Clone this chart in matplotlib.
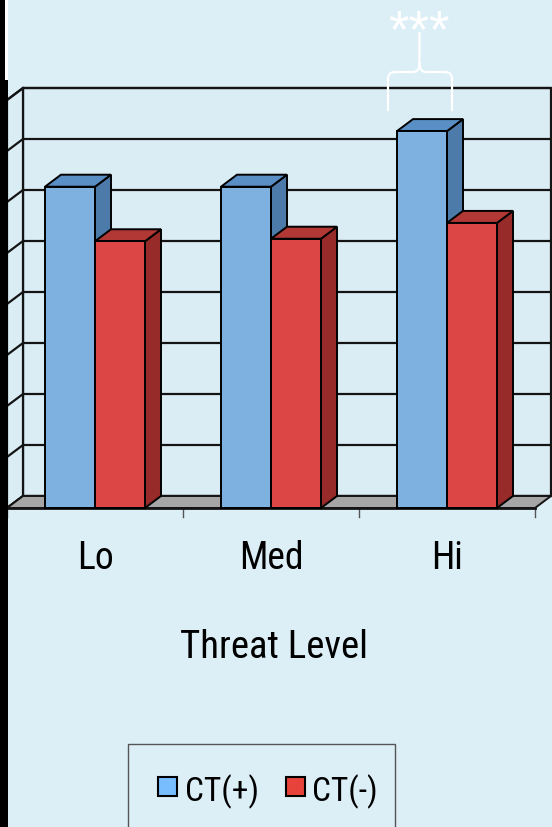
import matplotlib
matplotlib.use("Agg")
import matplotlib.pyplot as plt
from matplotlib.patches import Polygon, Rectangle, PathPatch
from matplotlib.path import Path
from matplotlib.transforms import Affine2D

# ---- data -------------------------------------------------------------
categories = ["Lo", "Med", "Hi"]
series_names = ["CT(+)", "CT(-)"]
ct_pos = [6.30, 6.30, 7.39]
ct_neg = [5.23, 5.28, 5.59]
y_levels = [0, 1, 2, 3, 4, 5, 6, 7, 8]
x_title = "Threat Level"
sig_mark = "***"

# ---- style ------------------------------------------------------------
BG = "#DCEEF6"
WALL = "#DAEDF4"
FLOOR = "#A6A6A6"
LINE = "#141414"
FRONT = ["#7EB1E0", "#DC4644"]
TOP = ["#5A8FC6", "#B13835"]
SIDE = ["#4C7BAA", "#962B2A"]
LEG = ["#78BEFF", "#E8433A"]
NARROW = ["Roboto Condensed", "Archivo Narrow", "DejaVu Sans"]

W, H = 552, 827
fig = plt.figure(figsize=(W / 100, H / 100), dpi=100)
fig.patch.set_facecolor(BG)

# pixel coordinates with the origin at the top-left corner
px = Affine2D().scale(1 / W, -1 / H).translate(0, 1) + fig.transFigure

ax = fig.add_axes([0, 0, 1, 1])
ax.set_axis_off()
ax.patch.set_alpha(0)

# category unit -> 176 px, value unit -> 51 px, front floor edge at (7, 508)
X0, XU, Y0, YU = 7, 176, 508, 51
ax.set_xlim(-X0 / XU, (W - X0) / XU)
ax.set_ylim((Y0 - H) / YU, Y0 / YU)

n = len(categories)
vmax = y_levels[-1]
DX, DY = 16 / XU, 12 / YU       # depth offset of the 3-D box
bw = 50 / XU                    # bar width in category units

# back wall, left wall and floor
ax.add_patch(Rectangle((DX, DY), n, vmax, facecolor=WALL, edgecolor=LINE,
                       lw=1.6, zorder=1))
ax.add_patch(Polygon([(0, 0), (DX, DY), (DX, vmax + DY), (0, vmax)],
                     closed=True, facecolor=WALL, edgecolor=LINE, lw=1.6, zorder=1))
for v in y_levels:
    ax.plot([DX, n + DX], [v + DY, v + DY], color=LINE, lw=1.6, zorder=2,
            solid_capstyle="butt")
    ax.plot([0, DX], [v, v + DY], color=LINE, lw=1.6, zorder=2)
ax.add_patch(Polygon([(0, 0), (n, 0), (n + DX, DY), (DX, DY)], closed=True,
                     facecolor=FLOOR, edgecolor=LINE, lw=1.4, zorder=3))
ax.plot([0, n], [0, 0], color=LINE, lw=2.0, zorder=3.5)
for i in range(n + 1):
    ax.plot([i, i], [0, -9 / YU], color="#555555", lw=1.0, zorder=3)

# 3-D bars: side, top, then front face
for j, vals in enumerate([ct_pos, ct_neg]):
    z = 5 + j
    lefts = [i + 0.5 - bw + j * bw for i in range(n)]
    for xl, v in zip(lefts, vals):
        ax.add_patch(Polygon([(xl + bw, 0), (xl + bw + DX, DY),
                              (xl + bw + DX, v + DY), (xl + bw, v)], closed=True,
                             facecolor=SIDE[j], edgecolor="black", lw=1.4, zorder=z))
        ax.add_patch(Polygon([(xl, v), (xl + bw, v), (xl + bw + DX, v + DY),
                              (xl + DX, v + DY)], closed=True,
                             facecolor=TOP[j], edgecolor="black", lw=1.4, zorder=z))
    ax.bar(lefts, vals, width=bw, align="edge", color=FRONT[j],
           edgecolor="black", lw=1.4, zorder=z)

# category labels and axis title
for i, c in enumerate(categories):
    ax.text(i + 0.5, -61 / YU, c, ha="center", va="baseline",
            fontsize=27, family=NARROW, color="black")
ax.text(1.517, -150 / YU, x_title, ha="center", va="baseline",
        fontsize=28, family=NARROW, color="black")

# significance bracket over the high-threat CT(+) bar
brace = Path(
    [(388, 111), (388, 80), (388, 74), (390, 72), (396, 72), (412, 72),
     (417, 72), (419.5, 70), (419.5, 62), (419.5, 32),
     (419.5, 62), (419.5, 70), (422, 72), (427, 72), (444, 72),
     (450, 72), (452, 74), (452, 80), (452, 111)],
    [Path.MOVETO, Path.LINETO, Path.CURVE4, Path.CURVE4, Path.CURVE4, Path.LINETO,
     Path.CURVE4, Path.CURVE4, Path.CURVE4, Path.LINETO,
     Path.MOVETO, Path.CURVE4, Path.CURVE4, Path.CURVE4, Path.LINETO,
     Path.CURVE4, Path.CURVE4, Path.CURVE4, Path.LINETO])
fig.add_artist(PathPatch(brace, transform=px, facecolor="none",
                         edgecolor="white", lw=1.6))
fig.text(419, 47, sig_mark, transform=px, ha="center", va="baseline",
         fontsize=38, family=["Liberation Sans", "DejaVu Sans"], color="white")

# legend box
fig.add_artist(Rectangle((128, 744), 267, 100, transform=px, facecolor="none",
                         edgecolor="#555555", lw=1.0))
for (mx, tx), name, col in zip([(158, 185), (286, 312)], series_names, LEG):
    fig.add_artist(Rectangle((mx, 777), 19, 19, transform=px, facecolor=col,
                             edgecolor="black", lw=1.5))
    fig.text(tx, 801, name, transform=px, ha="left", va="baseline",
             fontsize=24, family=NARROW, color="black")

# dark strip along the left edge
fig.add_artist(Rectangle((0, 0), 7.5, H, transform=px, facecolor="black",
                         edgecolor="none"))
fig.add_artist(Rectangle((5, 0), 2.5, 80, transform=px, facecolor="white",
                         edgecolor="none"))

fig.savefig("out.png", dpi=100, facecolor=BG)
